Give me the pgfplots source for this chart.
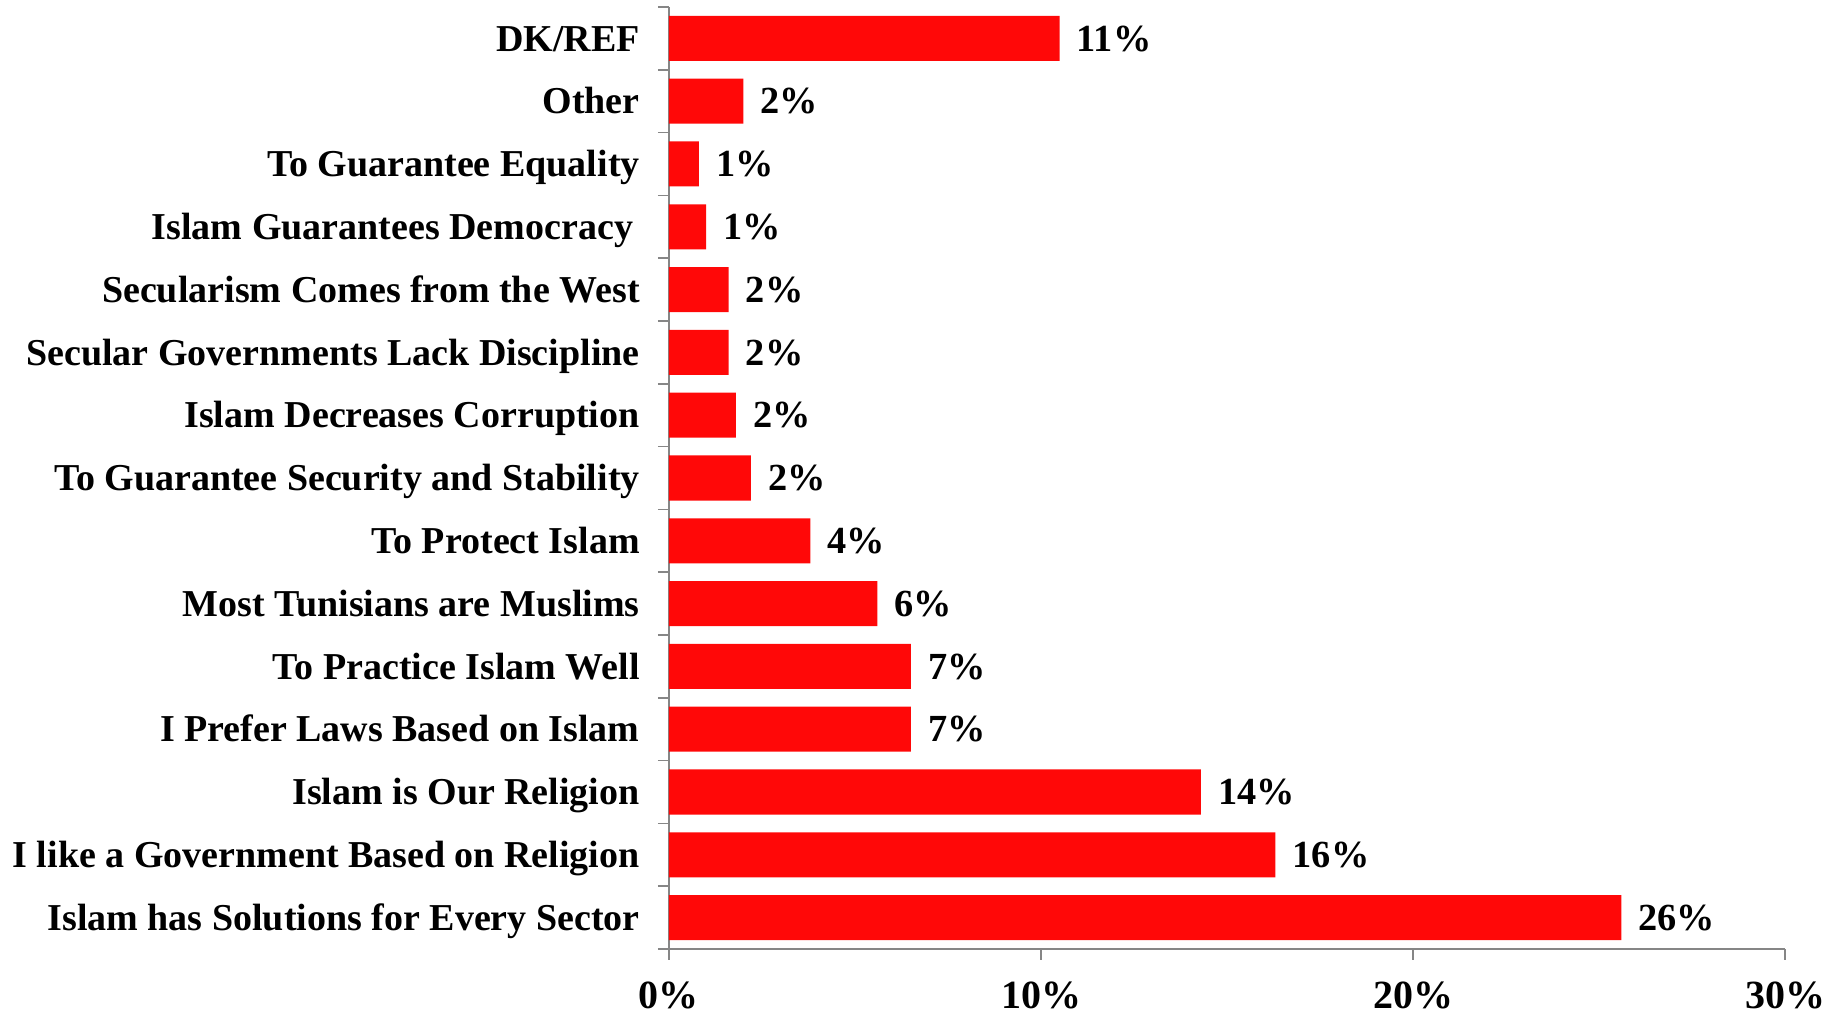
\documentclass[border=0pt]{standalone}
\usepackage{pgfplots}
\pgfplotsset{compat=1.18}
\usepackage{fontspec}
\setmainfont{Liberation Serif}
\definecolor{axgray}{RGB}{134,134,134}
\definecolor{barred}{RGB}{255,8,8}
\pgfplotstableread{
y v l
0 25.6 26
1 16.3 16
2 14.3 14
3 6.5 7
4 6.5 7
5 5.6 6
6 3.8 4
7 2.2 2
8 1.8 2
9 1.6 2
10 1.6 2
11 1.0 1
12 0.8 1
13 2.0 2
14 10.5 11
}\datatable
\begin{document}
\begin{tikzpicture}
\begin{axis}[
  xbar, scale only axis, width=334.8pt, height=282.6pt,
  xmin=0, xmax=30, ymin=-0.5, ymax=14.5,
  clip=false,
  axis x line*=bottom, axis y line*=left,
  axis line style={axgray, line width=0.5pt, -},
  tick align=outside,
  major tick length=0pt, minor tick length=3.3pt,
  tick style={axgray, line width=0.5pt},
  xtick={0,10,20,30}, xticklabels={0\%,10\%,20\%,30\%},
  minor xtick={0,10,20,30},
  ytick={0,...,14},
  minor ytick={-0.5,0.5,...,14.5},
  yticklabels={Islam has Solutions for Every Sector, I like a Government Based on Religion, Islam is Our Religion, I Prefer Laws Based on Islam, To Practice Islam Well, Most Tunisians are Muslims, To Protect Islam, To Guarantee Security and Stability, Islam Decreases Corruption, Secular Governments Lack Discipline, Secularism Comes from the West, Islam Guarantees Democracy\hspace*{2pt}, To Guarantee Equality, Other, DK/REF},
  yticklabel style={font=\bfseries\fontsize{11.4}{13}\selectfont, anchor=base east, inner sep=0pt, xshift=-8.6pt, yshift=-3.8pt},
  xticklabel style={font=\bfseries\fontsize{12}{14}\selectfont, anchor=north, inner sep=0pt, yshift=-9.8pt},
  bar width=0.717,
  point meta=explicit symbolic,
  nodes near coords={\pgfplotspointmeta\%},
  every node near coord/.append style={font=\bfseries\fontsize{11.5}{13}\selectfont, anchor=base west, inner sep=0pt, xshift=5pt, yshift=-3.8pt, text=black},
]
\addplot[fill=barred, draw=none] table[x=v, y=y, meta=l] {\datatable};
\coordinate (o) at (rel axis cs:0,0);
\coordinate (tr) at (rel axis cs:1,1);
\end{axis}
\pgfresetboundingbox
\path ([xshift=-200.7pt,yshift=-19.5pt]o) rectangle ([xshift=18pt,yshift=2.1pt]tr);
\end{tikzpicture}
\end{document}
